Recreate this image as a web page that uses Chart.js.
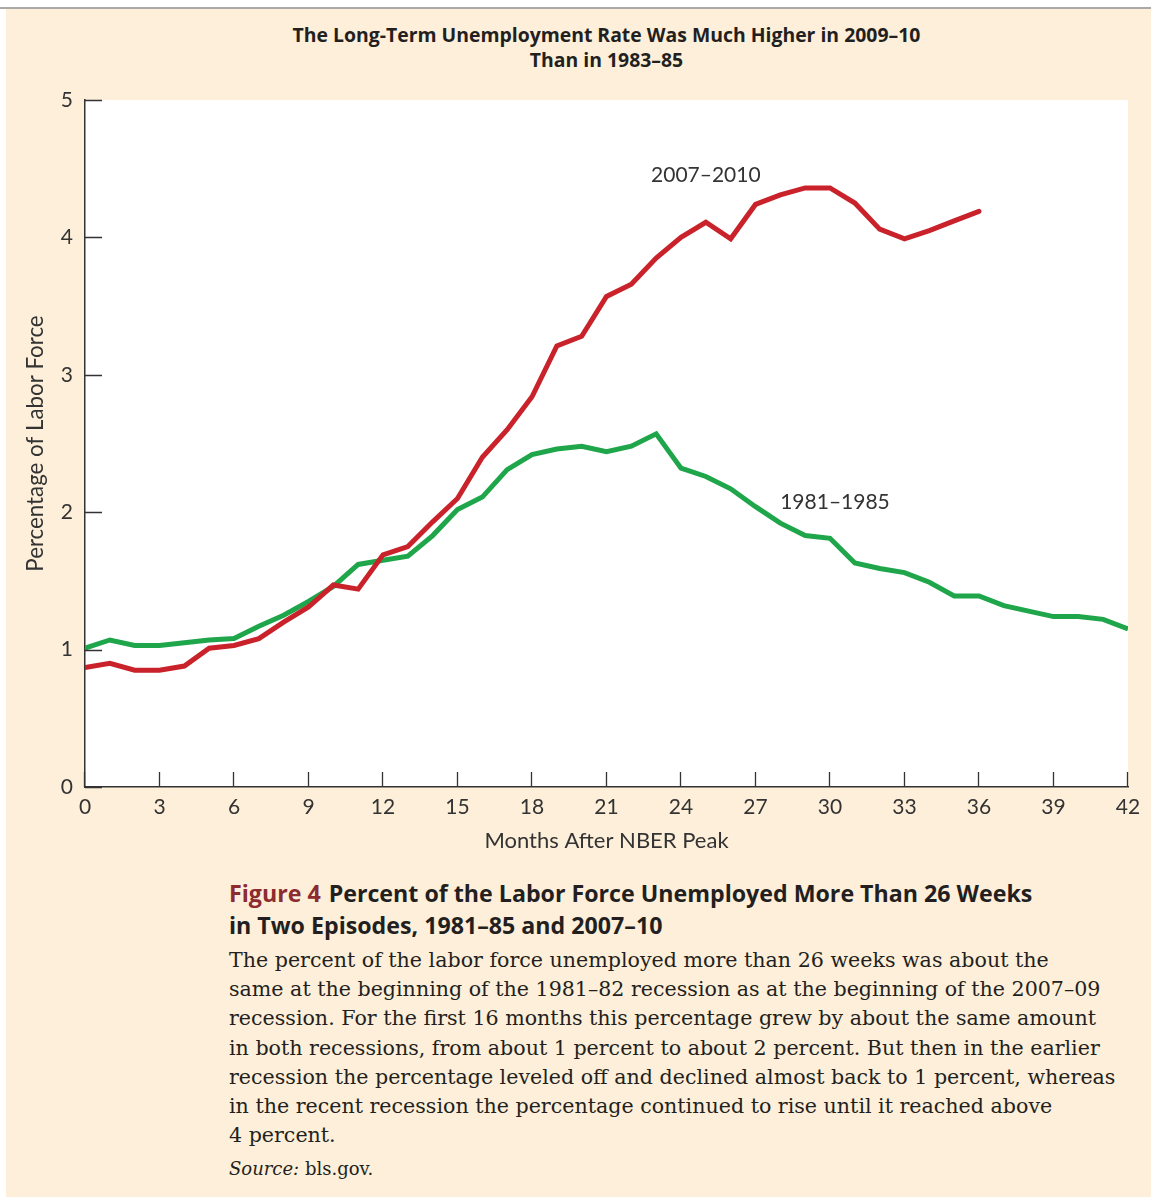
<!DOCTYPE html>
<html>
<head>
  <meta charset="utf-8">
  <title>Long-Term Unemployment</title>
  <script src="https://cdn.jsdelivr.net/npm/chart.js"></script>
  <style>
    * {
        margin: 0;
        padding: 0;
        box-sizing: border-box;
    }

    html, body {
        width: 1151px;
        height: 1198px;
        background: #ffffff;
        overflow: hidden;
    }

    #topRule {
        position: absolute;
        left: 0; top: 7px;
        width: 1151px; height: 2px;
        background: #a9a9a6;
    }

    #panel {
        position: absolute;
        left: 6px; top: 9px;
        width: 1145px; height: 1188px;
        background: #fdefd9;
    }

    #chartBox {
        position: absolute;
        left: 0; top: 0;
        width: 1151px; height: 870px;
    }

    #judul {
        position: absolute;
        left: 85px; top: 22px;
        width: 1043px;
        text-align: center;
        font-family: "Open Sans", sans-serif;
        font-weight: 700;
        font-size: 19.4px;
        line-height: 25px;
        color: #231f20;
    }

    #caption {
        position: absolute;
        left: 229px; top: 877px;
        width: 920px;
        color: #231f20;
        white-space: nowrap;
    }

    #caption h4 {
        font-family: "Open Sans", sans-serif;
        font-weight: 700;
        font-size: 23.2px;
        line-height: 32px;
    }

    #caption h4 span {
        color: #8c2b30;
        margin-right: 8px;
    }

    #caption p {
        font-family: "DejaVu Serif", serif;
        font-size: 20.6px;
        line-height: 29.2px;
        margin-top: 5px;
    }

    #caption .sumber {
        font-size: 18px;
        margin-top: 4px;
    }
  </style>
</head>
<body>
  <div id="topRule"></div>
  <div id="panel"></div>
  <div id="judul">The Long-Term Unemployment Rate Was Much Higher in 2009–10<br>Than in 1983–85</div>
  <div id="chartBox"><canvas id="grafik" width="1151" height="870"></canvas></div>
  <div id="caption">
    <h4><span>Figure 4</span>Percent of the Labor Force Unemployed More Than 26 Weeks<br>in Two Episodes, 1981–85 and 2007–10</h4>
    <p>The percent of the labor force unemployed more than 26 weeks was about the<br>
    same at the beginning of the 1981–82 recession as at the beginning of the 2007–09<br>
    recession. For the first 16 months this percentage grew by about the same amount<br>
    in both recessions, from about 1 percent to about 2 percent. But then in the earlier<br>
    recession the percentage leveled off and declined almost back to 1 percent, whereas<br>
    in the recent recession the percentage continued to rise until it reached above<br>
    4 percent.</p>
    <p class="sumber"><i>Source:</i> bls.gov.</p>
  </div>
  <script>
    // months after the NBER business-cycle peak
    const bulan = [0, 1, 2, 3, 4, 5, 6, 7, 8, 9, 10, 11, 12, 13, 14, 15, 16, 17, 18, 19, 20,
                   21, 22, 23, 24, 25, 26, 27, 28, 29, 30, 31, 32, 33, 34, 35, 36, 37, 38, 39, 40, 41, 42];

    // percent of labor force unemployed more than 26 weeks
    const resesi2007 = [0.87, 0.90, 0.85, 0.85, 0.88, 1.01, 1.03, 1.08, 1.20, 1.31, 1.47, 1.44,
                        1.69, 1.75, 1.93, 2.10, 2.40, 2.60, 2.84, 3.21, 3.28, 3.57, 3.66, 3.85,
                        4.00, 4.11, 3.99, 4.24, 4.31, 4.36, 4.36, 4.25, 4.06, 3.99, 4.05, 4.12, 4.19];
    const resesi1981 = [1.01, 1.07, 1.03, 1.03, 1.05, 1.07, 1.08, 1.17, 1.25, 1.35, 1.46, 1.62,
                        1.65, 1.68, 1.83, 2.02, 2.11, 2.31, 2.42, 2.46, 2.48, 2.44, 2.48, 2.57,
                        2.32, 2.26, 2.17, 2.04, 1.92, 1.83, 1.81, 1.63, 1.59, 1.56, 1.49, 1.39,
                        1.39, 1.32, 1.28, 1.24, 1.24, 1.22, 1.15];

    // series labels written next to the lines: [text, month, percent]
    const labelSeri = [
      ["2007–2010", 25.0, 4.45],
      ["1981–1985", 30.2, 2.07]
    ];

    const warnaTeks = '#333333';
    const fontAngka = { family: 'Lato, sans-serif', size: 21 };

    const toPoints = (vals) => vals.map((v, i) => ({ x: bulan[i], y: v }));

    // white plot area, inward tick marks and the line labels
    const plotDeco = {
      id: 'plotDeco',
      beforeDraw(chart) {
        const { ctx, chartArea: a } = chart;
        ctx.save();
        ctx.fillStyle = '#ffffff';
        ctx.fillRect(a.left, a.top, a.right - a.left, a.bottom - a.top);
        ctx.restore();
      },
      afterDraw(chart) {
        const { ctx, chartArea: a, scales } = chart;
        ctx.save();
        ctx.strokeStyle = '#333333';
        ctx.lineWidth = 1.3;
        ctx.beginPath();
        scales.y.ticks.forEach(t => {
          const py = Math.round(scales.y.getPixelForValue(t.value)) + 0.5;
          ctx.moveTo(a.left, py);
          ctx.lineTo(a.left + 17, py);
        });
        scales.x.ticks.forEach(t => {
          const px = Math.round(scales.x.getPixelForValue(t.value)) - 0.5;
          ctx.moveTo(px, a.bottom);
          ctx.lineTo(px, a.bottom - 15);
        });
        ctx.stroke();

        ctx.fillStyle = warnaTeks;
        ctx.font = '21px Lato, sans-serif';
        ctx.textAlign = 'center';
        ctx.textBaseline = 'middle';
        labelSeri.forEach(([teks, m, v]) => {
          ctx.fillText(teks, scales.x.getPixelForValue(m), scales.y.getPixelForValue(v));
        });
        ctx.restore();
      }
    };

    const ctx = document.getElementById('grafik').getContext('2d');
    new Chart(ctx, {
      type: 'line',
      data: {
        datasets: [{
          label: '2007–2010',
          data: toPoints(resesi2007),
          borderColor: '#c9222b',
          borderWidth: 5,
          borderCapStyle: 'round',
          borderJoinStyle: 'miter',
          pointRadius: 0,
          tension: 0,
          clip: 0
        }, {
          label: '1981–1985',
          data: toPoints(resesi1981),
          borderColor: '#1fa64b',
          borderWidth: 5,
          borderJoinStyle: 'miter',
          pointRadius: 0,
          tension: 0,
          clip: 0
        }]
      },
      options: {
        responsive: false,
        animation: false,
        maintainAspectRatio: false,
        layout: { padding: { left: 0, top: 100, right: 23, bottom: 0 } },
        plugins: {
          legend: { display: false },
          tooltip: { enabled: false }
        },
        scales: {
          x: {
            type: 'linear',
            min: 0,
            max: 42,
            grid: { display: false, drawTicks: false },
            border: { display: true, color: '#333333', width: 1.5 },
            ticks: { stepSize: 3, color: warnaTeks, font: fontAngka, padding: 8, maxRotation: 0, autoSkip: false },
            title: {
              display: true,
              text: 'Months After NBER Peak',
              color: warnaTeks,
              font: { family: 'Lato, sans-serif', size: 22 },
              padding: { top: 0, bottom: 16 }
            },
            afterFit(scale) { scale.height = 83; }
          },
          y: {
            min: 0,
            max: 5,
            grid: { display: false, drawTicks: false },
            border: { display: true, color: '#333333', width: 1.5 },
            ticks: { stepSize: 1, color: warnaTeks, font: fontAngka, padding: 12 },
            title: {
              display: true,
              text: 'Percentage of Labor Force',
              color: warnaTeks,
              font: { family: 'Lato, sans-serif', size: 22.3 },
              padding: { top: 22, bottom: 0 }
            },
            afterFit(scale) { scale.width = 85; }
          }
        }
      },
      plugins: [plotDeco]
    });
  </script>
</body>
</html>
